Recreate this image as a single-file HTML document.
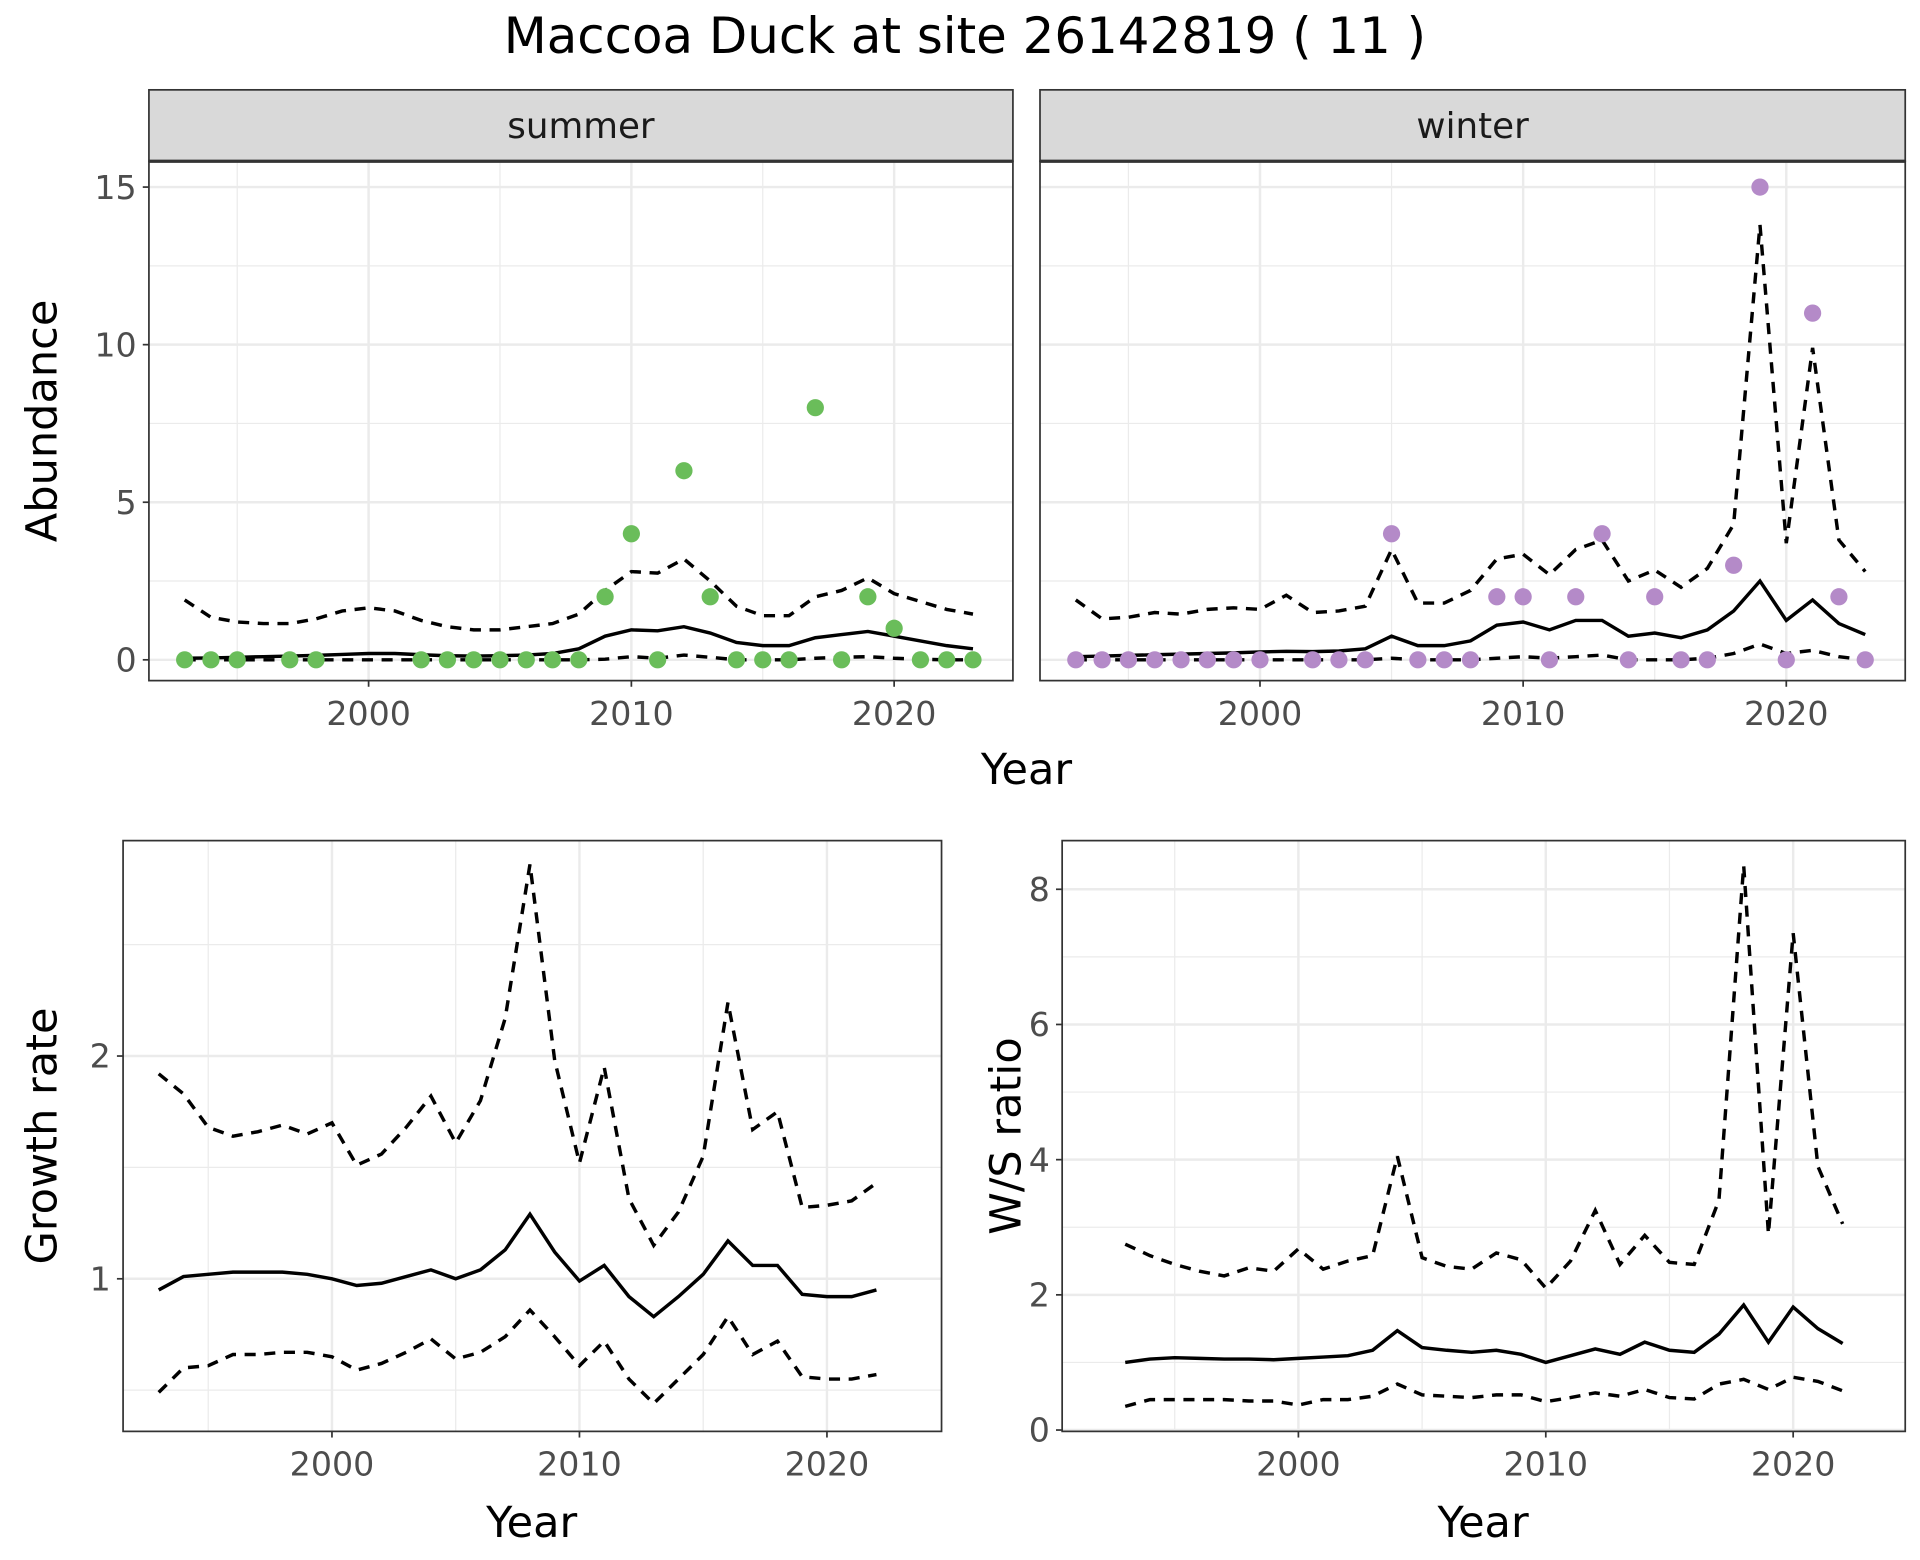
<!DOCTYPE html>
<html><head><meta charset="utf-8"><style>
html,body{margin:0;padding:0;background:#fff}
svg{display:block}
text{font-family:"DejaVu Sans","Liberation Sans",sans-serif}
</style></head><body>
<svg id="c" width="1920" height="1560" viewBox="0 0 1560 1267.5" xmlns="http://www.w3.org/2000/svg">
<rect width="1560" height="1267.5" fill="#fff"/>
<text x="784" y="43" text-anchor="middle" font-size="40.5" fill="#000">Maccoa Duck at site 26142819 ( 11 )</text>
</svg>
<script>
const years = [1993,1994,1995,1996,1997,1998,1999,2000,2001,2002,2003,2004,2005,2006,2007,2008,2009,2010,2011,2012,2013,2014,2015,2016,2017,2018,2019,2020,2021,2022,2023];
const summerObsYears = [1993,1994,1995,1997,1998,2002,2003,2004,2005,2006,2007,2008,2009,2010,2011,2012,2013,2014,2015,2016,2017,2018,2019,2020,2021,2022,2023];
const summerObs = [0,0,0,0,0,0,0,0,0,0,0,0,2,4,0,6,2,0,0,0,8,0,2,1,0,0,0];
const summerMean = [0.05,0.06,0.08,0.1,0.12,0.14,0.17,0.2,0.2,0.16,0.13,0.12,0.13,0.15,0.2,0.35,0.75,0.95,0.92,1.05,0.85,0.55,0.45,0.45,0.7,0.8,0.9,0.75,0.6,0.45,0.35];
const summerUpper = [1.9,1.35,1.2,1.15,1.15,1.3,1.55,1.65,1.55,1.25,1.05,0.95,0.95,1.05,1.15,1.45,2.2,2.8,2.75,3.2,2.5,1.7,1.4,1.4,2.0,2.2,2.6,2.1,1.85,1.6,1.45];
const summerLower = [0,0,0,0,0,0,0,0,0,0,0,0,0,0,0,0,0.02,0.1,0.05,0.15,0.08,0,0,0,0.05,0.08,0.1,0.05,0.02,0,0];
const winterObsYears = [1993,1994,1995,1996,1997,1998,1999,2000,2002,2003,2004,2005,2006,2007,2008,2009,2010,2011,2012,2013,2014,2015,2016,2017,2018,2019,2020,2021,2022,2023];
const winterObs = [0,0,0,0,0,0,0,0,0,0,0,4,0,0,0,2,2,0,2,4,0,2,0,0,3,15,0,11,2,0];
const winterMean = [0.1,0.12,0.14,0.16,0.18,0.2,0.22,0.25,0.27,0.26,0.28,0.35,0.75,0.45,0.45,0.6,1.1,1.2,0.95,1.25,1.25,0.75,0.85,0.7,0.95,1.55,2.5,1.25,1.9,1.15,0.8];
const winterUpper = [1.9,1.3,1.35,1.5,1.45,1.6,1.65,1.6,2.05,1.5,1.55,1.7,3.5,1.8,1.8,2.2,3.2,3.35,2.7,3.5,3.8,2.5,2.85,2.3,2.9,4.3,13.8,3.7,9.9,3.8,2.8];
const winterLower = [0,0,0,0,0,0,0,0,0,0,0,0,0.05,0,0,0,0.05,0.1,0.05,0.1,0.15,0,0,0,0.05,0.2,0.5,0.2,0.3,0.1,0];
const rateYears = [1993,1994,1995,1996,1997,1998,1999,2000,2001,2002,2003,2004,2005,2006,2007,2008,2009,2010,2011,2012,2013,2014,2015,2016,2017,2018,2019,2020,2021,2022];
const growthMean = [0.95,1.01,1.02,1.03,1.03,1.03,1.02,1.0,0.97,0.98,1.01,1.04,1.0,1.04,1.13,1.29,1.12,0.99,1.06,0.92,0.83,0.92,1.02,1.17,1.06,1.06,0.93,0.92,0.92,0.95];
const growthUpper = [1.92,1.83,1.68,1.64,1.66,1.69,1.65,1.7,1.51,1.56,1.68,1.82,1.61,1.8,2.17,2.86,1.98,1.52,1.95,1.36,1.15,1.3,1.55,2.24,1.67,1.75,1.32,1.33,1.35,1.43];
const growthLower = [0.49,0.6,0.61,0.66,0.66,0.67,0.67,0.65,0.59,0.62,0.67,0.73,0.64,0.67,0.74,0.86,0.74,0.61,0.72,0.55,0.44,0.55,0.66,0.83,0.66,0.72,0.56,0.55,0.55,0.57];
const wsMean = [1.0,1.05,1.07,1.06,1.05,1.05,1.04,1.06,1.08,1.1,1.18,1.47,1.22,1.18,1.15,1.18,1.12,1.0,1.1,1.2,1.12,1.3,1.18,1.15,1.42,1.85,1.3,1.82,1.5,1.28];
const wsUpper = [2.75,2.58,2.45,2.35,2.28,2.4,2.35,2.68,2.38,2.5,2.58,4.05,2.55,2.42,2.38,2.62,2.52,2.1,2.5,3.25,2.45,2.88,2.48,2.45,3.4,8.35,2.9,7.35,3.9,3.05];
const wsLower = [0.35,0.45,0.45,0.45,0.45,0.43,0.43,0.37,0.45,0.45,0.5,0.68,0.52,0.5,0.48,0.52,0.52,0.42,0.48,0.55,0.5,0.6,0.48,0.46,0.68,0.75,0.6,0.78,0.72,0.58];
const xTicks = [2000,2010,2020];

const svg = document.getElementById('c');
const NS = 'http://www.w3.org/2000/svg';
function mk(tag, attrs, parent){const e=document.createElementNS(NS,tag);for(const k in attrs)e.setAttribute(k,attrs[k]);(parent||svg).appendChild(e);return e;}

function panel(p){
  const g = mk('g',{});
  
  
  const sx = v => p.x0 + (v - p.xmin)/(p.xmax - p.xmin)*(p.x1 - p.x0);
  const sy = v => p.y1 - (v - p.ymin)/(p.ymax - p.ymin)*(p.y1 - p.y0);
  p.xMinor.forEach(v=>{mk('line',{x1:sx(v),x2:sx(v),y1:p.y0,y2:p.y1,stroke:'#ebebeb','stroke-width':1},g);});
  p.yMinor.forEach(v=>{mk('line',{x1:p.x0,x2:p.x1,y1:sy(v),y2:sy(v),stroke:'#ebebeb','stroke-width':1},g);});
  xTicks.forEach(v=>{mk('line',{x1:sx(v),x2:sx(v),y1:p.y0,y2:p.y1,stroke:'#ebebeb','stroke-width':2},g);});
  p.yTicks.forEach(v=>{mk('line',{x1:p.x0,x2:p.x1,y1:sy(v),y2:sy(v),stroke:'#ebebeb','stroke-width':2},g);});
  const cp = mk('clipPath',{id:'cp-'+p.name},g);
  mk('rect',{x:p.x0,y:p.y0,width:p.x1-p.x0,height:p.y1-p.y0},cp);
  const path = (xs, ys, dash) => {
    const d = ys.map((v,i)=>(i?'L':'M')+sx(xs[i]).toFixed(2)+','+sy(v).toFixed(2)).join('');
    return mk('path',{d:d,fill:'none',stroke:'#000','stroke-width':2.8,'stroke-dasharray':dash||'none','clip-path':'url(#cp-'+p.name+')'},g);
  };
  const u = path(p.xs,p.upper,'9,7');
  
  
  const lo = path(p.xs,p.lower,'9,7');
  
  
  const m = path(p.xs,p.mean,null);
  
  
  if(p.obs){
    p.obs.forEach((v,i)=>{
      const c = mk('circle',{cx:sx(p.obsYears[i]),cy:sy(v),r:7,fill:p.color},g);
      
      
    });
  }
  mk('rect',{x:p.x0,y:p.y0,width:p.x1-p.x0,height:p.y1-p.y0,fill:'none',stroke:'#333','stroke-width':1.4},g);
  xTicks.forEach(v=>{
    mk('line',{x1:sx(v),x2:sx(v),y1:p.y1,y2:p.y1+5,stroke:'#333','stroke-width':1.4},g);
    const t = mk('text',{x:sx(v),y:p.y1+36,'text-anchor':'middle','font-size':27,fill:'#4d4d4d'},g);
    t.textContent = v;
    
    
  });
  if(p.showY){
    p.yTicks.forEach((v,i)=>{
      mk('line',{x1:p.x0-5,x2:p.x0,y1:sy(v),y2:sy(v),stroke:'#333','stroke-width':1.4},g);
      const t = mk('text',{x:p.x0-10,y:sy(v)+9.5,'text-anchor':'end','font-size':27,fill:'#4d4d4d'},g);
      t.textContent = p.yLabels[i];
      
      
    });
  }
  if(p.strip){
    mk('rect',{x:p.x0,y:p.y0-58,width:p.x1-p.x0,height:58,fill:'#d9d9d9',stroke:'#333','stroke-width':1.4},g);
    mk('line',{x1:p.x0,x2:p.x1,y1:p.y0,y2:p.y0,stroke:'#333','stroke-width':2.6},g);
    const t = mk('text',{x:(p.x0+p.x1)/2,y:p.y0-19,'text-anchor':'middle','font-size':29,fill:'#1a1a1a'},g);
    t.textContent = p.strip;
    
    
  }
}

panel({name:'summer-panel',x0:121,x1:823,y0:131,y1:553,xmin:1991.64,xmax:2024.52,ymin:-0.66,ymax:15.82,
  xMinor:[1995,2005,2015],yMinor:[2.5,7.5,12.5],yTicks:[0,5,10,15],yLabels:['0','5','10','15'],showY:true,strip:'summer',
  xs:years,mean:summerMean,upper:summerUpper,lower:summerLower,obs:summerObs,obsYears:summerObsYears,color:'#6abd5a'});
panel({name:'winter-panel',x0:845,x1:1548,y0:131,y1:553,xmin:1991.64,xmax:2024.52,ymin:-0.66,ymax:15.82,
  xMinor:[1995,2005,2015],yMinor:[2.5,7.5,12.5],yTicks:[0,5,10,15],yLabels:['0','5','10','15'],showY:false,strip:'winter',
  xs:years,mean:winterMean,upper:winterUpper,lower:winterLower,obs:winterObs,obsYears:winterObsYears,color:'#b48ac8'});
panel({name:'growth-panel',x0:100,x1:765,y0:683,y1:1163,xmin:1991.56,xmax:2024.63,ymin:0.315,ymax:2.967,
  xMinor:[1995,2005,2015],yMinor:[0.5,1.5,2.5],yTicks:[1,2],yLabels:['1','2'],showY:true,
  xs:rateYears,mean:growthMean,upper:growthUpper,lower:growthLower});
panel({name:'ws-ratio-panel',x0:863,x1:1548,y0:683,y1:1163,xmin:1990.45,xmax:2024.53,ymin:-0.02,ymax:8.72,
  xMinor:[1995,2005,2015],yMinor:[1,3,5,7],yTicks:[0,2,4,6,8],yLabels:['0','2','4','6','8'],showY:true,
  xs:rateYears,mean:wsMean,upper:wsUpper,lower:wsLower});

function label(txt,x,y,rot,name){
  const t = mk('text',{x:x,y:y,'text-anchor':'middle','font-size':35,fill:'#000'});
  if(rot) t.setAttribute('transform','rotate(-90 '+x+' '+y+')');
  t.textContent = txt;
  
  
}
label('Year',834,637,false,'top-x-axis-title');
label('Abundance',46,342,true,'abundance-y-axis-title');
label('Year',432,1249,false,'growth-x-axis-title');
label('Growth rate',46,923,true,'growth-y-axis-title');
label('Year',1205,1249,false,'ws-x-axis-title');
label('W/S ratio',829,923,true,'ws-y-axis-title');
</script>
</body></html>
